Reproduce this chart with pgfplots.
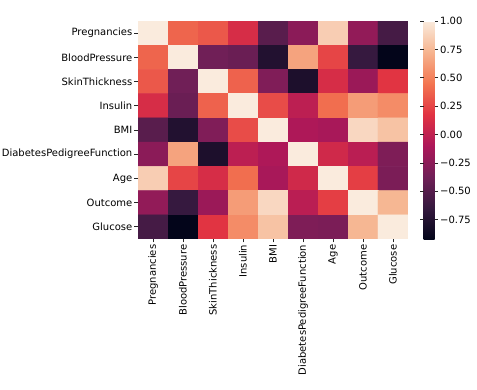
\documentclass[border=0pt]{standalone}
\usepackage{fontspec}
\setmainfont{DejaVu Sans}
\usepackage{pgfplots}
\pgfplotsset{compat=1.18}
\usepackage{pgfplotstable}
\pgfplotstableread{
x y c
0 0 1.00
1 0 0.38
2 0 0.33
3 0 0.12
4 0 -0.48
5 0 -0.25
6 0 0.85
7 0 -0.22
8 0 -0.57
0 1 0.38
1 1 1.00
2 1 -0.37
3 1 -0.40
4 1 -0.75
5 1 0.65
6 1 0.25
7 1 -0.64
8 1 -0.92
0 2 0.33
1 2 -0.37
2 2 1.00
3 2 0.37
4 2 -0.30
5 2 -0.78
6 2 0.12
7 2 -0.18
8 2 0.18
0 3 0.12
1 3 -0.40
2 3 0.37
3 3 1.00
4 3 0.28
5 3 -0.02
6 3 0.42
7 3 0.62
8 3 0.55
0 4 -0.48
1 4 -0.75
2 4 -0.30
3 4 0.28
4 4 1.00
5 4 -0.09
6 4 -0.12
7 4 0.90
8 4 0.80
0 5 -0.25
1 5 0.65
2 5 -0.78
3 5 -0.02
4 5 -0.09
5 5 1.00
6 5 0.08
7 5 -0.03
8 5 -0.31
0 6 0.85
1 6 0.25
2 6 0.12
3 6 0.42
4 6 -0.12
5 6 0.08
6 6 1.00
7 6 0.22
8 6 -0.32
0 7 -0.22
1 7 -0.64
2 7 -0.18
3 7 0.62
4 7 0.90
5 7 -0.03
6 7 0.22
7 7 1.00
8 7 0.74
0 8 -0.57
1 8 -0.92
2 8 0.18
3 8 0.55
4 8 0.80
5 8 -0.31
6 8 -0.32
7 8 0.74
8 8 1.00
}\corrtable
\begin{document}
\begin{tikzpicture}
\path[use as bounding box] (0,0) rectangle (477bp,-390bp);
\begin{axis}[
  at={(138bp,-21bp)}, anchor=north west,
  scale only axis, width=270bp, height=218bp,
  xmin=-0.5, xmax=8.5, ymin=-0.5, ymax=8.5, y dir=reverse,
  enlargelimits=false,
  axis line style={draw=none},
  xtick={0,...,8}, ytick={0,...,8},
  xticklabels={Pregnancies,BloodPressure,SkinThickness,Insulin,BMI,DiabetesPedigreeFunction,Age,Outcome,Glucose},
  yticklabels={Pregnancies,BloodPressure,SkinThickness,Insulin,BMI,DiabetesPedigreeFunction,Age,Outcome,Glucose},
  xtick pos=bottom, ytick pos=left,
  tick align=outside, major tick length=3.5bp,
  tick style={black!85, line width=0.8bp},
  xticklabel style={rotate=90, anchor=east, font=\fontsize{10bp}{12bp}\selectfont, inner sep=2bp},
  yticklabel style={font=\fontsize{10bp}{12bp}\selectfont, inner sep=2bp},
  colormap={rocket}{rgb255=(3,5,26) rgb255=(53,25,62) rgb255=(112,31,87) rgb255=(173,23,89) rgb255=(225,51,66) rgb255=(243,118,81) rgb255=(246,180,143) rgb255=(250,235,221)},
  point meta min=-0.92, point meta max=1.0,
  colorbar,
  colorbar style={
    at={(parent axis.north east)}, anchor=north west, xshift=7bp,
    scale only axis, width=11bp, height=218bp,
    axis line style={draw=none},
    ytick={-0.75,-0.5,-0.25,0,0.25,0.5,0.75,1.0},
    yticklabels={−0.75,−0.50,−0.25,0.00,0.25,0.50,0.75,1.00},
    yticklabel pos=right,
    tick align=outside, major tick length=3.5bp,
    tick style={black!85, line width=0.8bp},
    yticklabel style={font=\fontsize{10bp}{12bp}\selectfont, inner sep=2bp},
  },
]
\addplot[matrix plot*, mesh/cols=9, point meta=explicit] table[x=x, y=y, meta=c] {\corrtable};
\end{axis}
\end{tikzpicture}
\end{document}
